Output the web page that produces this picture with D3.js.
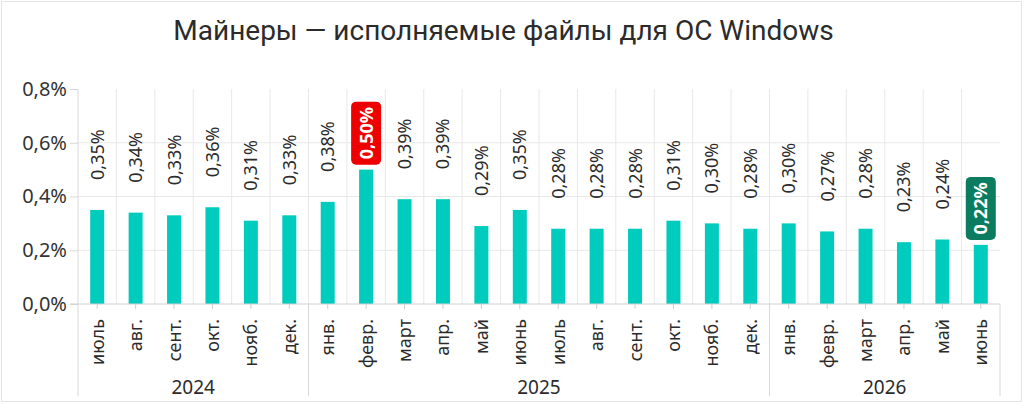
<!DOCTYPE html>
<html lang="ru">
<head>
	<meta charset="utf-8">
	<script src="https://cdn.jsdelivr.net/npm/d3@7"></script>
	<style>
		body { margin: 0; background: #fff; }
		text { fill: #2b2b2b; }
	</style>
</head>
<body>
	<script type="text/javascript">
		var w = 1024;
		var h = 404;

		// data
		var months = ["июль","авг.","сент.","окт.","нояб.","дек.",
			"янв.","февр.","март","апр.","май","июнь","июль","авг.","сент.","окт.","нояб.","дек.",
			"янв.","февр.","март","апр.","май","июнь"];
		var years = ["2024","2025","2026"];
		var yearCount = [6, 12, 6];
		var values = [0.35,0.34,0.33,0.36,0.31,0.33,0.38,0.50,0.39,0.39,0.29,0.35,
			0.28,0.28,0.28,0.31,0.30,0.28,0.30,0.27,0.28,0.23,0.24,0.22];
		var highlights = {7: "#ee0000", 23: "#0b7c60"}; // max and last
		var yTicks = [0, 0.2, 0.4, 0.6, 0.8];

		// "top" is taken by window.top, so plot edges get their own names
		var plotL = 78, plotR = 1000, plotT = 89, plotB = 304;

		var svg = d3.select("body").append("svg")
				.attr("width", w)
				.attr("height", h);

		// outer frame
		svg.append("rect")
			.attr("x", 1.5).attr("y", 1.5)
			.attr("width", w - 4).attr("height", h - 4)
			.attr("fill", "none")
			.attr("stroke", "#e4e4e4");

		svg.append("text")
			.attr("x", 503.5).attr("y", 40)
			.attr("text-anchor", "middle")
			.style("font-family", "Roboto")
			.style("font-size", "28px")
			.text("Майнеры — исполняемые файлы для ОС Windows");

		var idx = d3.range(values.length);
		var x = d3.scaleBand().domain(idx).range([plotL, plotR]);
		var y = d3.scaleLinear().domain([0, 0.8]).range([plotB, plotT]);
		var barW = 14;

		function fmt(v) { return d3.format(".2f")(v).replace(".", ",") + "%"; }
		function fmtTick(v) { return d3.format(".1f")(v).replace(".", ",") + "%"; }

		// horizontal grid
		svg.append("g").selectAll("line")
			.data(yTicks.filter(function(d){ return d > 0 && d < 0.8; }))
			.enter().append("line")
			.attr("x1", plotL).attr("x2", plotR)
			.attr("y1", function(d){ return y(d); })
			.attr("y2", function(d){ return y(d); })
			.attr("stroke", "#e8e8e8");

		// vertical grid at band edges
		svg.append("g").selectAll("line")
			.data(idx.slice(1))
			.enter().append("line")
			.attr("x1", function(d){ return x(d); })
			.attr("x2", function(d){ return x(d); })
			.attr("y1", plotT).attr("y2", plotB)
			.attr("stroke", "#e8e8e8");

		// y axis
		var yAxis = svg.append("g")
			.attr("transform", "translate(" + plotL + ",0)")
			.call(d3.axisLeft(y).tickValues(yTicks).tickSize(8).tickPadding(3).tickFormat(fmtTick));
		yAxis.select(".domain").remove();
		yAxis.selectAll(".tick line").attr("stroke", "#d8d8d8");
		yAxis.selectAll("text")
			.style("font-family", "Noto Sans")
			.style("font-size", "20px")
			.style("fill", "#333");

		// bars
		svg.append("g").selectAll("rect")
			.data(values)
			.enter().append("rect")
			.attr("x", function(d, i){ return x(i) + x.bandwidth() / 2 - barW / 2; })
			.attr("y", function(d){ return y(d); })
			.attr("width", barW)
			.attr("height", function(d){ return plotB - y(d); })
			.attr("fill", "#00ccbe");

		// value labels
		var lab = svg.append("g").selectAll("g")
			.data(values)
			.enter().append("g")
			.attr("transform", function(d, i){
				var cx = x(i) + x.bandwidth() / 2;
				var off = highlights[i] ? 5 : 30;
				return "translate(" + cx + "," + (y(d) - off) + ")";
			});
		lab.each(function(d, i){
			var g = d3.select(this);
			if (highlights[i]) {
				g.append("rect")
					.attr("x", -15).attr("y", -63)
					.attr("width", 30).attr("height", 63)
					.attr("rx", 5)
					.attr("fill", highlights[i]);
				g.append("text")
					.attr("transform", "rotate(-90)")
					.attr("x", 31.5).attr("y", 6.5)
					.attr("text-anchor", "middle")
					.style("font-family", "Noto Sans")
					.style("font-size", "18px")
					.style("font-weight", "bold")
					.style("fill", "#fff")
					.text(fmt(d));
			} else {
				g.append("text")
					.attr("transform", "rotate(-90)")
					.attr("x", 0).attr("y", 6.5)
					.style("font-family", "Noto Sans")
					.style("font-size", "18px")
					.text(fmt(d));
			}
		});

		// x axis line and ticks
		svg.append("line")
			.attr("x1", plotL - 8).attr("x2", plotR)
			.attr("y1", plotB).attr("y2", plotB)
			.attr("stroke", "#d0d0d0");
		svg.append("g").selectAll("line")
			.data(idx)
			.enter().append("line")
			.attr("x1", function(d){ return x(d) + x.bandwidth() / 2; })
			.attr("x2", function(d){ return x(d) + x.bandwidth() / 2; })
			.attr("y1", plotB).attr("y2", plotB + 5)
			.attr("stroke", "#d0d0d0");

		// month labels
		svg.append("g").selectAll("text")
			.data(months)
			.enter().append("text")
			.attr("transform", function(d, i){
				return "translate(" + (x(i) + x.bandwidth() / 2 + 6.5) + "," + (plotB + 15) + ") rotate(-90)";
			})
			.attr("text-anchor", "end")
			.style("font-family", "Noto Sans")
			.style("font-size", "18px")
			.text(function(d){ return d; });

		// year groups
		var starts = [0];
		yearCount.forEach(function(c, i){ starts.push(starts[i] + c); });
		var edges = starts.map(function(s){ return s < values.length ? x(s) : plotR; });

		svg.append("line")
			.attr("x1", plotL).attr("x2", plotL)
			.attr("y1", plotT).attr("y2", plotB)
			.attr("stroke", "#d8d8d8");
		svg.append("g").selectAll("line")
			.data(edges)
			.enter().append("line")
			.attr("x1", function(d){ return d; })
			.attr("x2", function(d){ return d; })
			.attr("y1", plotB).attr("y2", 396)
			.attr("stroke", "#d8d8d8");

		svg.append("g").selectAll("text")
			.data(years)
			.enter().append("text")
			.attr("x", function(d, i){ return (edges[i] + edges[i + 1]) / 2; })
			.attr("y", 394)
			.attr("text-anchor", "middle")
			.style("font-family", "Noto Sans")
			.style("font-size", "19px")
			.text(function(d){ return d; });
	</script>
</body>
</html>
